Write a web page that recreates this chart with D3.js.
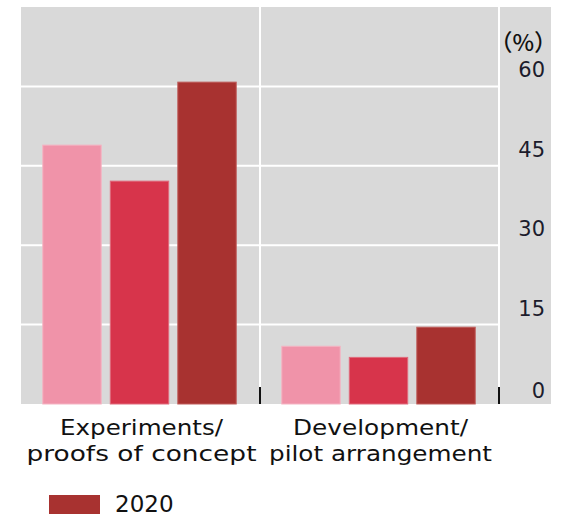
<!DOCTYPE html>
<html>
<head>
<meta charset="utf-8">
<script src="https://cdn.jsdelivr.net/npm/d3@7"></script>
<style>
  body { margin: 0; background: #fff; }
  svg { display: block; }
</style>
</head>
<body>
<div id="chart"></div>
<script>
// data
var categories = [["Experiments/", "proofs of concept"], ["Development/", "pilot arrangement"]];
var seriesNames = ["2018", "2019", "2020"];
var values2018 = [49.0, 11.0];
var values2019 = [42.2, 8.9];
var values2020 = [60.9, 14.6];
var yTicks = [0, 15, 30, 45, 60];

var colors = ["#f093a9", "#d7344b", "#a83230"];
var strokes = ["#f5b3c2", "#e06b7c", "#bf5c5a"];
// widths of the label lines, to match the wider original font
var labelWidths = [[163, 230], [175, 223]];

var width = 563, height = 516;

var svg = d3.select("#chart").append("svg")
  .attr("width", width)
  .attr("height", height);

var plotLeft = 21, plotRight = 499, bgRight = 551, plotTop = 7, plotBottom = 404;

var y = d3.scaleLinear().domain([0, 75]).range([plotBottom, plotTop]);

var catIdx = categories.map(function(c, i){ return i; });
var x0 = d3.scaleBand().domain(catIdx).range([plotLeft, plotRight]).paddingInner(0).paddingOuter(0);
var x1 = d3.scaleBand().domain(seriesNames).range([0, x0.bandwidth()]).paddingInner(0.12).paddingOuter(0.33);

// grey panel
svg.append("rect").attr("x", plotLeft).attr("y", plotTop)
  .attr("width", bgRight - plotLeft).attr("height", plotBottom - plotTop)
  .style("fill", "#d9d9d9");

// horizontal grid
yTicks.filter(function(t){ return t > 0; }).forEach(function(t){
  svg.append("line").attr("x1", plotLeft).attr("x2", plotRight)
    .attr("y1", y(t)).attr("y2", y(t))
    .style("stroke", "#fff").style("stroke-width", 2);
});

// vertical separators
[1, 2].forEach(function(i){
  var xx = i < categories.length ? x0(i) : plotRight;
  svg.append("line").attr("x1", xx).attr("x2", xx)
    .attr("y1", plotTop).attr("y2", plotBottom)
    .style("stroke", "#fff").style("stroke-width", 2);
});

// bars
var allSeries = [values2018, values2019, values2020];
allSeries.forEach(function(vals, s){
  vals.forEach(function(v, c){
    svg.append("rect")
      .attr("x", x0(c) + x1(seriesNames[s]) - 0.5)
      .attr("y", y(v) + 0.5)
      .attr("width", x1.bandwidth() - 1)
      .attr("height", y(0) - y(v) - 0.5)
      .style("fill", colors[s])
      .style("stroke", strokes[s])
      .style("stroke-width", 1);
  });
});

// small black ticks at group boundaries
[1, 2].forEach(function(i){
  var xx = i < categories.length ? x0(i) : plotRight;
  svg.append("line").attr("x1", xx).attr("x2", xx)
    .attr("y1", plotBottom - 17).attr("y2", plotBottom)
    .style("stroke", "#111").style("stroke-width", 2);
});

// y tick labels
yTicks.forEach(function(t){
  svg.append("text").attr("x", 545).attr("y", y(t) - (t == 0 ? 6 : 9))
    .attr("text-anchor", "end")
    .text(t)
    .style("font-family", "DejaVu Sans, sans-serif").style("font-size", "21px").style("fill", "#1c1c2c");
});
svg.append("text").attr("x", 557).attr("y", 51)
  .attr("text-anchor", "end")
  .text("（%）")
  .style("font-family", "Noto Sans CJK SC, sans-serif").style("font-size", "23px").style("font-weight", "500").style("fill", "#111");

// category labels
categories.forEach(function(lines, i){
  var cx = x0(i) + x0.bandwidth() / 2 + 1;
  lines.forEach(function(l, k){
    svg.append("text").attr("x", cx).attr("y", 435 + k * 26)
      .attr("text-anchor", "middle")
      .attr("textLength", labelWidths[i][k])
      .attr("lengthAdjust", "spacingAndGlyphs")
      .text(l)
      .style("font-family", "DejaVu Sans, sans-serif").style("font-size", "22px").style("fill", "#111");
  });
});

// legend (only 2020 visible)
svg.append("rect").attr("x", 49).attr("y", 495).attr("width", 51).attr("height", 19).style("fill", colors[2]);
svg.append("text").attr("x", 115).attr("y", 512).text(seriesNames[2])
  .style("font-family", "DejaVu Sans, sans-serif").style("font-size", "23px").style("fill", "#111");
</script>
</body>
</html>
